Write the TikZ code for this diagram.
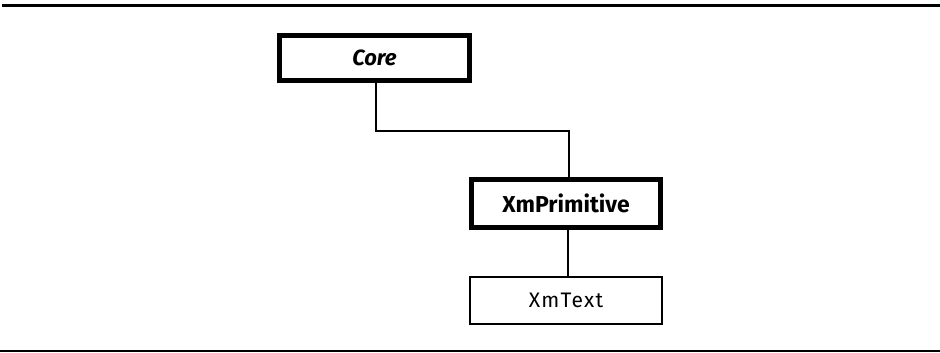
\documentclass[tikz,border=0pt]{standalone}
\usepackage{fontspec}
\setmainfont{Fira Sans}
\begin{document}
\begin{tikzpicture}[x=1pt,y=-1pt,
  classbox/.style={draw,rectangle,fill=white,inner sep=0pt},
  strong/.style={classbox,line width=5pt,minimum width=190pt,minimum height=45pt},
  plain/.style={classbox,line width=2pt,minimum width=192pt,minimum height=47pt},
  link/.style={line width=2.6pt}]
\useasboundingbox (0,0) rectangle (940,353);
% frame rules
\draw[line width=3pt] (2,5.5) -- (940,5.5);
\draw[line width=1.6pt] (0,351) -- (940,351);
% classes
\node[strong,font=\fontsize{22}{26}\selectfont\bfseries\itshape] (core) at (374.5,58) {Core};
\node[strong,minimum width=189pt,minimum height=48pt,font=\fontsize{23}{27}\selectfont\bfseries] (prim) at (566,203.5) {XmPrimitive};
\node[plain,font=\fontsize{21}{25}\selectfont\fontseries{l}\selectfont\addfontfeature{LetterSpace=6}] (txt) at (566,300.5) {XmText};
% inheritance links
\draw[link] ([xshift=1.5pt]core.south) -- ++(0,48) -| ([xshift=3pt]prim.north);
\draw[link] ([xshift=2pt]prim.south) -- ([xshift=2pt]txt.north);
\end{tikzpicture}
\end{document}
